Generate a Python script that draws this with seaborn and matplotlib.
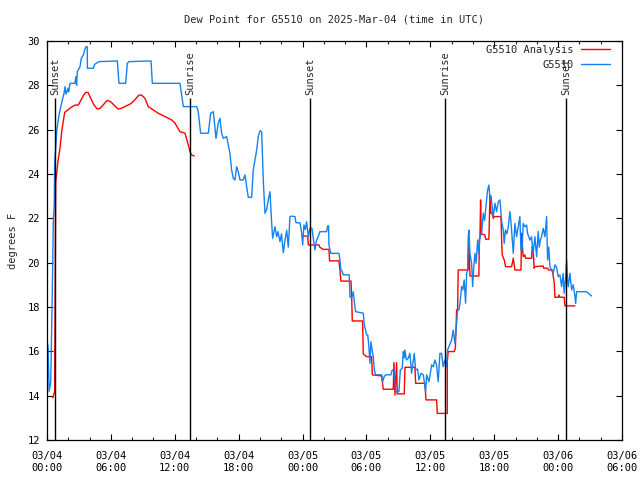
import matplotlib
matplotlib.use("Agg")
import matplotlib.pyplot as plt
from matplotlib.lines import Line2D
import numpy as np
import pandas as pd
import seaborn as sns

# ---------------- data (hours since 03/04 00:00 UTC, dew point in F) ----------------
title = "Dew Point for G5510 on 2025-Mar-04 (time in UTC)"
y_label = "degrees F"
series_names = ["G5510 Analysis", "G5510"]

red_time_a = [0.55, 0.72, 0.82, 1.03, 1.22, 1.38, 1.66, 2.22, 2.63, 2.94, 3.41, 3.63, 3.85, 4.41,
              4.73, 4.98, 5.66, 5.98, 6.67, 6.98, 7.86, 8.23, 8.64, 8.89, 9.2, 9.51, 9.98, 10.45,
              11.08, 11.71, 12.02, 12.49, 12.96, 13.27, 13.43, 13.58, 13.83]
red_dew_a = [13.9, 14.2, 23.65, 24.56, 25.16, 25.91, 26.78, 26.99, 27.11, 27.11, 27.53, 27.68, 27.68,
             27.11, 26.93, 26.96, 27.32, 27.26, 26.93, 26.96, 27.17, 27.34, 27.56, 27.56, 27.41, 27.04,
             26.89, 26.74, 26.59, 26.44, 26.29, 25.91, 25.84, 25.31, 25.0, 24.86, 24.81]

red_time_b = [23.97, 24.48, 24.54, 25.54, 25.63, 25.95, 26.48, 26.54, 27.42, 27.51, 27.6, 28.55, 28.62,
              28.67, 29.64, 29.7, 30.02, 30.49, 30.55, 31.43, 31.58, 32.52, 32.58, 32.68, 32.83, 32.89,
              33.55, 33.62, 34.55, 34.62, 35.49, 35.59, 36.59, 36.65, 37.59, 37.59, 37.68, 38.25, 38.35,
              38.47, 38.56, 38.62, 39.56, 39.62, 39.72, 40.56, 40.6, 40.66, 40.72, 40.78, 41.13, 41.19,
              41.5, 41.6, 41.69, 41.8, 41.91, 42.0, 42.63, 42.7, 42.75, 42.94, 43.07, 43.63, 43.79, 43.94,
              44.51, 44.57, 44.72, 44.88, 44.95, 45.51, 45.57, 45.66, 45.75, 45.8, 46.6, 46.65, 47.01,
              47.1, 47.44, 47.5, 47.64, 47.7, 48.01, 48.08, 48.15, 48.57, 48.64, 49.58]
red_dew_b = [21.2, 21.2, 20.8, 20.8, 20.69, 20.6, 20.6, 20.08, 20.08, 19.67, 19.17, 19.17, 18.32, 17.37,
             17.37, 15.88, 15.76, 15.76, 14.94, 14.89, 14.29, 14.29, 15.49, 14.03, 15.49, 14.08, 14.08,
             15.28, 15.28, 14.56, 14.56, 13.81, 13.81, 13.2, 13.2, 15.54, 15.99, 15.99, 16.14, 17.87,
             17.87, 19.67, 19.67, 21.1, 19.4, 19.4, 21.02, 21.17, 22.83, 21.3, 21.25, 21.06, 21.06, 23.05,
             22.23, 22.23, 22.0, 22.08, 22.08, 20.95, 20.35, 20.12, 19.82, 19.82, 20.2, 19.67, 19.67,
             21.32, 20.27, 20.35, 20.2, 20.2, 20.72, 20.57, 19.75, 19.82, 19.85, 19.75, 19.75, 19.67,
             19.67, 19.52, 19.07, 18.44, 18.44, 18.54, 18.44, 18.44, 18.05, 18.05]

blue_time = [0.0, 0.1, 0.2, 0.35, 0.5, 0.6, 0.68, 0.72, 0.85, 0.92, 1.03, 1.13, 1.29, 1.44, 1.6, 1.69,
             1.78, 1.97, 2.03, 2.16, 2.63, 2.7, 2.78, 2.85, 3.1, 3.22, 3.41, 3.54, 3.66, 3.78, 3.79,
             4.35, 4.48, 4.88, 6.6, 6.76, 7.39, 7.54, 7.7, 9.77, 9.89, 12.49, 12.8, 14.06, 14.2, 14.43,
             15.15, 15.37, 15.62, 15.87, 16.08, 16.24, 16.4, 16.55, 16.87, 17.18, 17.34, 17.49, 17.65,
             17.81, 17.96, 18.12, 18.43, 18.59, 18.75, 18.9, 19.22, 19.37, 19.53, 19.69, 19.84, 20.0,
             20.16, 20.31, 20.47, 20.63, 20.78, 20.94, 21.1, 21.19, 21.41, 21.57, 21.69, 21.88, 22.02,
             22.19, 22.35, 22.51, 22.66, 22.82, 22.98, 23.29, 23.38, 23.76, 23.92, 24.01, 24.13, 24.26,
             24.38, 24.54, 24.69, 24.88, 25.16, 25.32, 25.47, 25.63, 26.26, 26.36, 26.44, 26.48, 26.57,
             26.67, 27.42, 27.51, 27.6, 27.73, 27.82, 28.38, 28.45, 28.6, 28.76, 28.86, 28.98, 29.7,
             29.8, 30.02, 30.12, 30.23, 30.33, 30.42, 30.52, 30.64, 30.74, 30.86, 31.43, 31.52, 31.67,
             31.8, 32.3, 32.42, 32.6, 32.68, 32.77, 33.05, 33.18, 33.36, 33.46, 33.55, 33.61, 33.75,
             33.93, 34.08, 34.24, 34.4, 34.49, 34.62, 34.8, 34.93, 35.12, 35.34, 35.56, 35.65, 35.87,
             35.97, 36.12, 36.28, 36.43, 36.58, 36.74, 36.9, 37.05, 37.21, 37.37, 37.5, 37.62, 37.75,
             38.0, 38.15, 38.31, 38.47, 38.56, 38.68, 38.78, 38.94, 39.05, 39.18, 39.31, 39.41, 39.5,
             39.56, 39.62, 39.72, 39.8, 39.88, 39.97, 40.08, 40.19, 40.3, 40.44, 40.55, 40.66, 40.82,
             40.97, 41.1, 41.22, 41.38, 41.5, 41.6, 41.7, 41.81, 41.91, 42.07, 42.22, 42.38, 42.54,
             42.7, 42.85, 42.94, 43.05, 43.18, 43.32, 43.47, 43.58, 43.69, 43.79, 43.94, 44.1, 44.25,
             44.41, 44.51, 44.62, 44.72, 44.88, 45.04, 45.13, 45.35, 45.5, 45.66, 45.82, 45.98, 46.13,
             46.23, 46.33, 46.45, 46.6, 46.76, 46.92, 47.01, 47.12, 47.23, 47.39, 47.54, 47.7, 47.85,
             48.01, 48.17, 48.33, 48.47, 48.57, 48.7, 48.8, 48.88, 48.95, 49.11, 49.27, 49.42, 49.58,
             49.64, 49.74, 50.2, 50.67, 51.14]
blue_dew = [16.5, 16.2, 14.2, 14.6, 18.8, 22.0, 22.6, 24.5, 25.4, 26.0, 26.36, 26.66, 27.04, 27.34,
            27.64, 27.94, 27.6, 27.87, 27.7, 28.09, 28.09, 28.39, 28.0, 28.62, 28.84, 29.22, 29.37,
            29.59, 29.74, 29.74, 28.77, 28.77, 28.95, 29.07, 29.1, 28.09, 28.09, 28.99, 29.07, 29.1,
            28.09, 28.09, 27.04, 27.04, 26.81, 25.84, 25.84, 26.74, 26.81, 25.61, 26.29, 26.51, 25.84,
            25.61, 25.69, 24.93, 24.18, 23.81, 23.73, 24.33, 24.11, 23.73, 23.73, 23.96, 23.43, 22.95,
            22.95, 24.18, 24.63, 25.08, 25.68, 25.95, 25.91, 23.73, 22.23, 22.4, 22.83, 23.2, 21.78,
            21.1, 21.62, 21.17, 21.4, 20.95, 21.3, 20.45, 21.0, 21.47, 20.7, 22.08, 22.1, 22.08, 21.8,
            21.8, 21.32, 20.8, 21.7, 21.5, 21.85, 21.17, 21.55, 21.55, 20.57, 21.02, 21.17, 21.4, 21.4,
            21.66, 21.66, 20.8, 20.57, 20.42, 20.42, 20.12, 19.67, 19.6, 19.45, 19.45, 18.47, 18.39,
            18.69, 18.24, 17.79, 17.72, 17.19, 16.74, 16.74, 16.21, 15.46, 16.44, 16.1, 15.76, 15.16,
            14.94, 14.94, 14.63, 14.86, 14.94, 14.94, 15.16, 15.16, 14.71, 14.18, 14.18, 15.16, 15.24,
            15.99, 15.7, 16.06, 15.61, 15.69, 15.91, 15.01, 15.61, 15.91, 15.16, 15.2, 14.71, 15.01,
            14.94, 14.18, 14.94, 14.63, 14.94, 15.39, 15.3, 15.61, 15.4, 14.63, 15.91, 15.91, 15.31,
            15.61, 15.3, 16.06, 16.21, 16.51, 16.96, 16.36, 17.27, 17.87, 17.87, 18.17, 18.92, 18.77,
            19.22, 18.17, 19.52, 19.7, 21.17, 21.47, 20.42, 20.2, 19.97, 18.92, 19.8, 20.42, 19.97,
            21.02, 20.42, 21.17, 21.32, 22.23, 21.9, 22.53, 23.28, 23.5, 22.9, 23.0, 22.53, 22.08,
            22.68, 22.3, 22.75, 22.83, 21.85, 21.47, 20.87, 21.47, 21.3, 21.62, 22.3, 21.8, 21.1,
            20.42, 21.77, 21.17, 21.62, 22.08, 20.57, 20.57, 21.77, 21.62, 21.7, 21.32, 21.02, 21.17,
            20.42, 21.17, 20.27, 21.4, 20.7, 21.02, 21.17, 21.55, 21.17, 22.08, 20.12, 20.7, 19.82,
            19.67, 19.52, 19.9, 19.8, 19.37, 19.45, 18.92, 19.52, 18.62, 19.3, 20.12, 19.3, 18.92,
            19.52, 18.77, 19.0, 18.47, 18.17, 18.69, 18.69, 18.69, 18.5]

sun_times = [0.75, 13.43, 24.69, 37.37, 48.73]
sun_labels = ["Sunset", "Sunrise", "Sunset", "Sunrise", "Sunset"]

x_ticks = [0, 6, 12, 18, 24, 30, 36, 42, 48, 54]
x_tick_labels = ["03/04\n00:00", "03/04\n06:00", "03/04\n12:00", "03/04\n18:00", "03/05\n00:00",
                 "03/05\n06:00", "03/05\n12:00", "03/05\n18:00", "03/06\n00:00", "03/06\n06:00"]
y_ticks = [12, 14, 16, 18, 20, 22, 24, 26, 28, 30]

# ---------------- styling ----------------
sns.set_style("ticks")
plt.rcParams["font.family"] = ["DejaVu Sans Mono", "DejaVu Sans"]
plt.rcParams["font.size"] = 7.5

RED = "#ff0000"
BLUE = "#1482f0"

df_red = pd.DataFrame({
    "time": red_time_a + red_time_b,
    "dew": red_dew_a + red_dew_b,
    "seg": [0] * len(red_time_a) + [1] * len(red_time_b),
})
df_blue = pd.DataFrame({"time": blue_time, "dew": blue_dew, "seg": 0})

fig = plt.figure(figsize=(6.4, 4.8), dpi=100)
ax = fig.add_axes([47 / 640, 1 - 440 / 480, 575 / 640, 399 / 480])

sns.lineplot(data=df_red, x="time", y="dew", units="seg", estimator=None, sort=False,
             color=RED, lw=1.0, ax=ax, legend=False)
sns.lineplot(data=df_blue, x="time", y="dew", units="seg", estimator=None, sort=False,
             color=BLUE, lw=1.0, ax=ax, legend=False)

# sunrise / sunset markers
ax.vlines(sun_times, 12, 27.45, color="black", lw=1.0)
for t, lab in zip(sun_times, sun_labels):
    ax.text(t, 27.55, lab, rotation=90, ha="center", va="bottom", fontsize=7.5)

ax.set_xlim(0, 54)
ax.set_ylim(12, 30)
ax.set_xticks(x_ticks)
ax.set_xticklabels(x_tick_labels, linespacing=1.25)
ax.set_xticks(np.arange(0, 55, 2), minor=True)
ax.set_yticks(y_ticks)
ax.set_yticklabels([str(v) for v in y_ticks])

ax.tick_params(axis="both", which="major", direction="in", length=4, width=0.8,
               top=True, right=True, pad=5, labelsize=7.5, colors="black")
ax.tick_params(axis="x", which="major", pad=8)
ax.tick_params(axis="x", which="minor", direction="in", length=2.5, width=0.8, top=True)
ax.tick_params(axis="y", which="minor", left=False, right=False)

for s in ax.spines.values():
    s.set_visible(True)
    s.set_color("black")
    s.set_linewidth(0.9)

ax.set_xlabel("")
ax.set_ylabel(y_label, fontsize=7.5)
ax.yaxis.set_label_coords(-0.051, 0.5)
ax.set_title(title, fontsize=7.5, pad=13)

handles = [Line2D([0], [0], color=RED, lw=1.0), Line2D([0], [0], color=BLUE, lw=1.0)]
ax.legend(handles, series_names, loc="upper right", bbox_to_anchor=(0.979, 0.99),
          frameon=False, markerfirst=False, handlelength=2.8, handletextpad=0.7,
          borderaxespad=0, borderpad=0, labelspacing=0.45, fontsize=7.5)

fig.savefig("out.png", dpi=100)
